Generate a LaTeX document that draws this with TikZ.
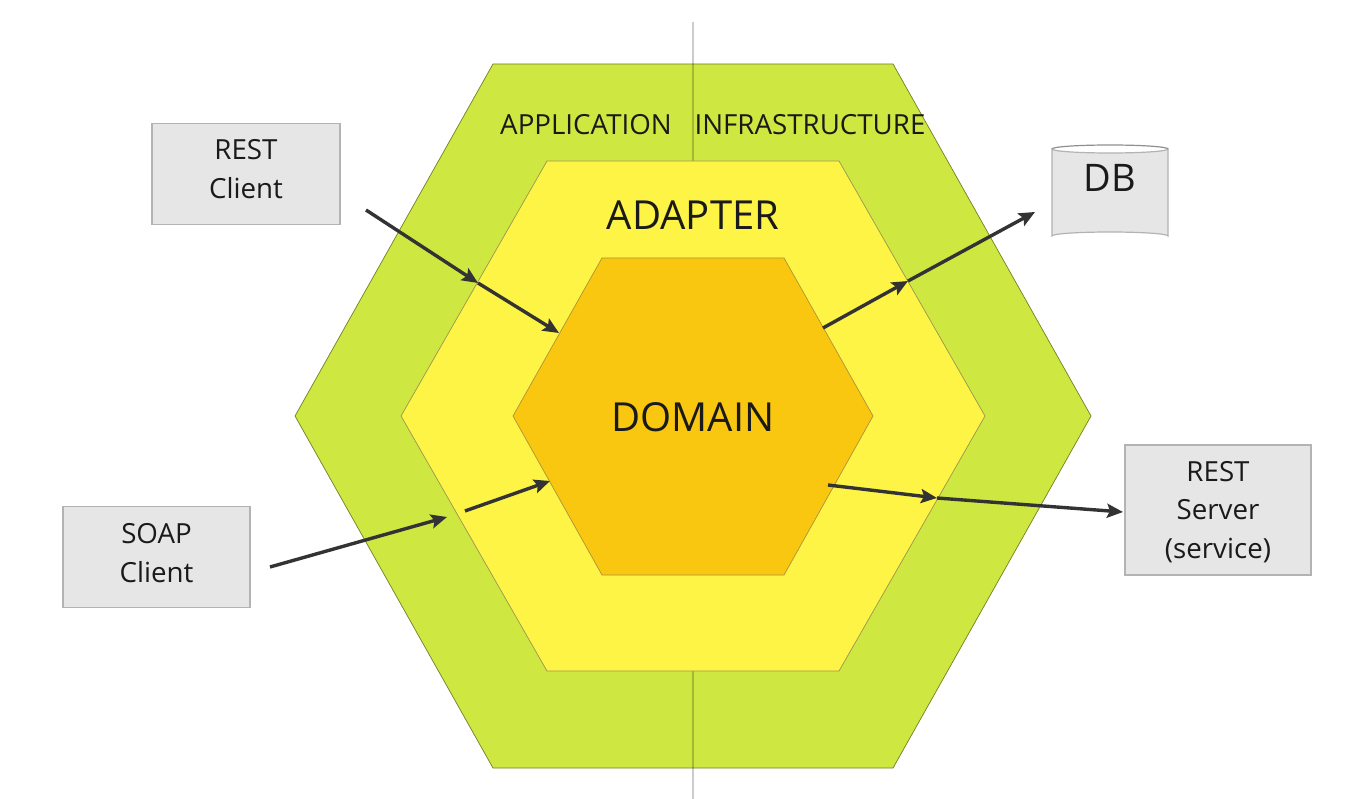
\documentclass[tikz,border=0pt]{standalone}
\usepackage{fontspec}
\setmainfont{Open Sans}
\usetikzlibrary{arrows.meta}
\definecolor{hexgreen}{HTML}{CEE741}
\definecolor{hexyellow}{HTML}{FEF445}
\definecolor{hexorange}{HTML}{FAC710}
\definecolor{boxfill}{HTML}{E6E6E6}
\definecolor{boxline}{HTML}{B3B3B3}
\definecolor{arrowcol}{HTML}{333333}
\definecolor{txtcol}{HTML}{1A1A1A}
\tikzset{
  hexouter/.style={fill=hexgreen, draw=hexgreen!55!black, line width=0.7pt},
  hexmid/.style={fill=hexyellow, draw=hexyellow!50!black!80, line width=0.7pt},
  hexinner/.style={fill=hexorange, draw=hexorange!60!black!80, line width=0.7pt},
  clientbox/.style={fill=boxfill, draw=boxline, line width=1.2pt, inner sep=0pt},
  lbl/.style={text=txtcol, inner sep=0pt, font=\fontsize{27.7}{38.5}\selectfont, align=center},
  biglbl/.style={text=txtcol, inner sep=0pt, font=\fontsize{40}{48}\selectfont},
  conn/.style={draw=arrowcol, line width=3.4pt, -{Stealth[length=16pt,width=14pt,inset=3pt]}},
}
\begin{document}
\begin{tikzpicture}[x=1pt,y=-1pt]
\useasboundingbox[fill=white] (0,0) rectangle (1346,799);
% outer hexagon
\draw[hexouter] (493,64) -- (893,64) -- (1091,416) -- (893,768) -- (493,768) -- (295,416) -- cycle;
% divider line
\draw[black, opacity=0.2, line width=1.5pt] (693,22) -- (693,799);
% middle hexagon
\draw[hexmid] (547,161) -- (839,161) -- (985,416) -- (839,671) -- (547,671) -- (401,416) -- cycle;
% inner hexagon
\draw[hexinner] (602,258) -- (784,258) -- (873,416) -- (784,575) -- (602,575) -- (513,416) -- cycle;
% labels
\node[lbl] (app) at (586,125) {APPLICATION};
\node[lbl] (infra) at (810,125) {INFRASTRUCTURE};
\node[biglbl] (adapter) at (693,215) {ADAPTER};
\node[biglbl] (domain) at (693,417) {DOMAIN};
% client boxes
\node[clientbox, minimum width=188pt, minimum height=101pt] (restc) at (246,174) {};
\node[lbl] (restct) at (246,169) {REST\\Client};
\node[clientbox, minimum width=187pt, minimum height=101pt] (soapc) at (156.5,557) {};
\node[lbl] (soapct) at (156.5,553) {SOAP\\Client};
\node[clientbox, minimum width=186pt, minimum height=130pt] (rests) at (1218,510) {};
\node[lbl] (restst) at (1218,512) {REST\\Server\\(service)};
% DB cylinder
\path[fill=boxfill, draw=boxline, line width=1.2pt] (1052,149) -- (1052,236)
  arc[start angle=180, end angle=360, x radius=58, y radius=4] -- (1168,149)
  arc[start angle=0, end angle=180, x radius=58, y radius=4] -- cycle;
\draw[boxline!80!black, line width=1.2pt] (1052,149) arc[start angle=180, end angle=360, x radius=58, y radius=4];
\node[text=txtcol, inner sep=0pt, font=\fontsize{38}{44}\selectfont] (db) at (1110,178) {DB};
% connector points
\coordinate (r0) at (366,210);
\coordinate (r1) at (478,283);
\coordinate (r2) at (559,333);
\coordinate (s0) at (270,567);
\coordinate (s1) at (447,517);
\coordinate (s2) at (465,511);
\coordinate (s3) at (550,481);
\coordinate (d0) at (823,328);
\coordinate (d1) at (908,281);
\coordinate (d2) at (1035,212);
\coordinate (v0) at (828,485);
\coordinate (v1) at (937,498);
\coordinate (v2) at (1123,512);
% connectors
\draw[conn] (r0) -- (r1);
\draw[conn] (r1) -- (r2);
\draw[conn] (s0) -- (s1);
\draw[conn] (s2) -- (s3);
\draw[conn] (d0) -- (d1);
\draw[conn] (d1) -- (d2);
\draw[conn] (v0) -- (v1);
\draw[conn] (v1) -- (v2);
\end{tikzpicture}
\end{document}
